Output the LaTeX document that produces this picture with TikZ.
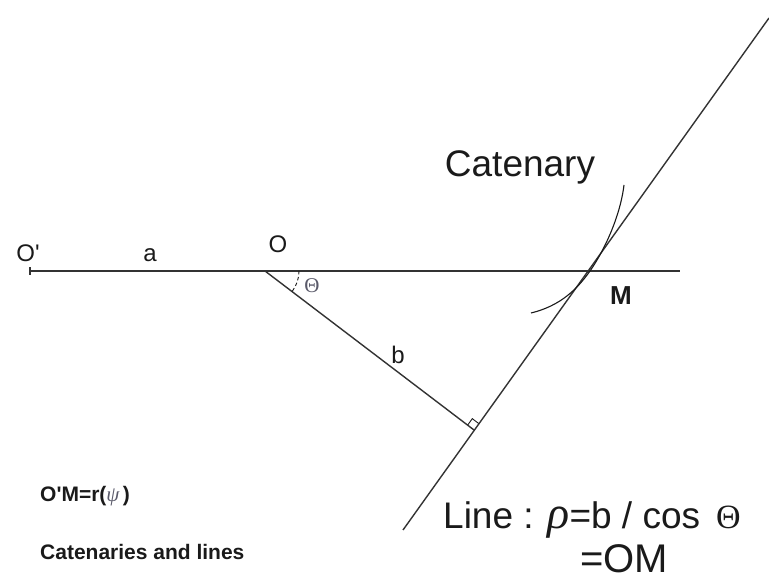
\documentclass[tikz,border=0pt]{standalone}
\usepackage{fontspec}
\setmainfont{Liberation Sans}
\newfontfamily\greekfont{Liberation Serif}
\usetikzlibrary{calc}
\definecolor{ink}{HTML}{1A1A1A}
\definecolor{linegray}{HTML}{333333}
\definecolor{mute}{HTML}{5A5A6A}
\tikzset{
  geomline/.style  = {draw=linegray, line width=1.4pt},
  anglemark/.style = {draw=ink, line width=0.9pt, dash pattern=on 3.5pt off 2.5pt},
  ptlabel/.style   = {font=\fontsize{24}{28}\selectfont, text=ink, inner sep=0pt},
  boldlabel/.style = {font=\fontsize{21}{25}\selectfont\bfseries, text=ink, inner sep=0pt},
  biglabel/.style  = {font=\fontsize{37}{41}\selectfont, text=ink, inner sep=0pt},
}

\begin{document}
\begin{tikzpicture}[x=1pt, y=1pt]
  \useasboundingbox (0,0) rectangle (769,580);

  \coordinate (Op) at (30,309);
  \coordinate (O) at (265,309);
  \coordinate (M) at (590,309);
  \coordinate (E) at (680,309);
  \coordinate (L1) at (403,50);
  \coordinate (L2) at (769,562);
  \coordinate (H) at (474,150);
  \coordinate (cl) at (531,267);
  \coordinate (cu) at (624,395);

  \draw[geomline] (Op) -- (E);
  \draw[geomline] ($(Op)+(0,-4)$) -- ($(Op)+(0,4)$);
  \draw[geomline] (L1) -- (L2);
  \draw[geomline] (O) -- (H);
  \draw[line width=1.1pt, draw=ink] (cl) .. controls (560,274) and (577,290.5) .. (M)
    .. controls (603,327.5) and (620,362) .. (cu);

  \coordinate (ra) at ($(H)!8pt!(O)$);
  \coordinate (rb) at ($(H)!8pt!(L2)$);
  \draw[line width=0.9pt, draw=ink] (ra) -- ($(ra)+(rb)-(H)$) -- (rb);
  \draw[anglemark] ($(O)+(34,0)$) arc[start angle=0, end angle=-37.3, radius=34];

  \node[ptlabel] (lOp) at (28,327) {O\textquotesingle};
  \node[ptlabel] (la) at (150,325) {a};
  \node[ptlabel] (lO) at (278,336) {O};
  \node[inner sep=0pt, text=mute, font=\greekfont\fontsize{21}{24}\selectfont] (ltheta) at (312,294) {Θ};
  \node[ptlabel] (lb) at (398,225) {b};
  \node[biglabel] (lcat) at (520,413) {Catenary};
  \node[font=\fontsize{26}{30}\selectfont\bfseries, text=ink, inner sep=0pt] (lM) at (621,284) {M};
  \node[boldlabel, anchor=west] (lr) at (40,84) {O\textquotesingle M=r({\mdseries\color{mute}\greekfont\itshape ψ\,})};
  \node[boldlabel, anchor=west] (lcl) at (40,28) {Catenaries and lines};
  \node[biglabel, anchor=base west] (lline) at (443,51)
    {Line : {\greekfont\itshape\fontsize{46}{50}\selectfont ρ}=b / cos\hspace{16pt}{\greekfont\fontsize{34}{38}\selectfont Θ}};
  \node[font=\fontsize{40}{44}\selectfont, text=ink, inner sep=0pt, anchor=base] (lom) at (624,7) {=OM};
\end{tikzpicture}
\end{document}
